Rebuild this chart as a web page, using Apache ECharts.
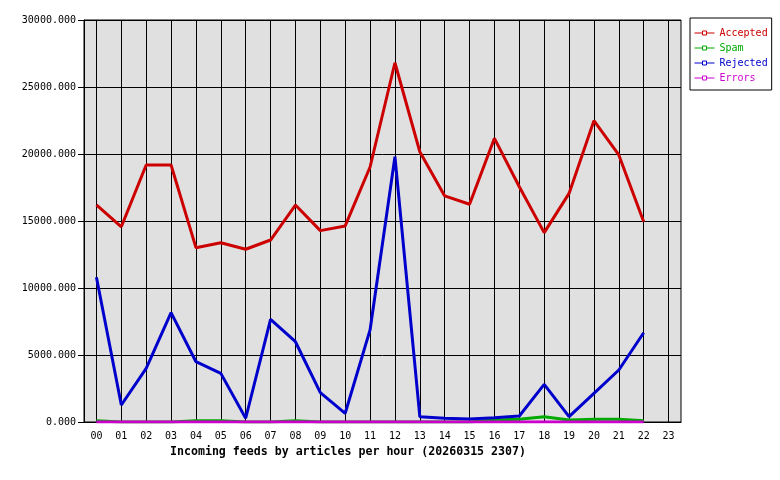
<!DOCTYPE html>
<html><head><meta charset="utf-8">
<script src="https://cdn.jsdelivr.net/npm/echarts@6/dist/echarts.min.js"></script>
<style>html,body{margin:0;padding:0;background:#fff}#c{width:780px;height:480px}</style>
</head><body><div id="c"></div>
<script>
var hours = ['00','01','02','03','04','05','06','07','08','09','10','11','12','13','14','15','16','17','18','19','20','21','22','23'];
var accepted = [16200,14570,19180,19180,13010,13380,12890,13580,16190,14280,14630,19030,26810,20170,16870,16250,21170,17560,14130,17060,22490,19930,14950];
var spam     = [100,0,0,0,100,100,0,0,100,0,0,0,0,0,0,0,150,200,400,150,200,200,100];
var rejected = [10800,1270,4000,8160,4500,3630,280,7660,5990,2190,650,6870,19800,400,280,220,320,450,2810,400,2140,3880,6660];
var errors   = [0,0,0,0,0,0,0,0,0,0,0,0,0,0,0,0,0,0,0,0,0,0,0];
var yTicks = [0,5000,10000,15000,20000,25000,30000];
var titleText = 'Incoming feeds by articles per hour (20260315 2307)';

var mono = 'DejaVu Sans Mono';
var colors = {Accepted:'#cc0000', Spam:'#00aa00', Rejected:'#0000cc', Errors:'#cc00cc'};
function mk(name, data, z){
  return {name:name, type:'line', data:data, z:z, symbol:'rect', symbolSize:4, showSymbol:false,
    itemStyle:{color:'#fff', borderColor:colors[name], borderWidth:1},
    lineStyle:{color:colors[name], width:3}, color:colors[name], animation:false};
}
var chart = echarts.init(document.getElementById('c'));
chart.setOption({
  animation:false,
  title:{text:titleText, left:170, top:446, padding:0, textStyle:{fontFamily:mono, fontSize:11.6, fontWeight:'bold', color:'#000'}},
  legend:{orient:'vertical', left:690, top:18, padding:[9,4,6,4], itemGap:3,
    borderColor:'#000', borderWidth:1, itemWidth:20, itemHeight:5,
    lineStyle:{width:1}, itemStyle:{color:'#fff', borderWidth:1},
    textStyle:{fontFamily:mono, fontSize:10, lineHeight:12},
    data:['Accepted','Spam','Rejected','Errors'].map(function(n){return {name:n, textStyle:{color:colors[n]}};})},
  grid:{left:84, right:99, top:20, bottom:58, show:true, backgroundColor:'#e0e0e0', borderColor:'#000', borderWidth:1},
  xAxis:{type:'category', data:hours, boundaryGap:true,
    axisLine:{lineStyle:{color:'#000'}}, axisTick:{show:false},
    axisLabel:{fontFamily:mono, fontSize:10, color:'#000', margin:9, interval:0},
    splitLine:{show:true, alignWithLabel:true, interval:0, lineStyle:{color:'#000', width:1}}},
  yAxis:{type:'value', min:0, max:30000, interval:5000,
    axisLine:{show:true, lineStyle:{color:'#000'}}, axisTick:{show:true, length:6, lineStyle:{color:'#000'}},
    axisLabel:{fontFamily:mono, fontSize:10, color:'#000', margin:8, formatter:function(v){return v.toFixed(3);}},
    splitLine:{show:true, lineStyle:{color:'#000', width:1}}},
  series:[mk('Accepted',accepted,5), mk('Spam',spam,4), mk('Rejected',rejected,6), mk('Errors',errors,7)]
});
</script></body></html>
